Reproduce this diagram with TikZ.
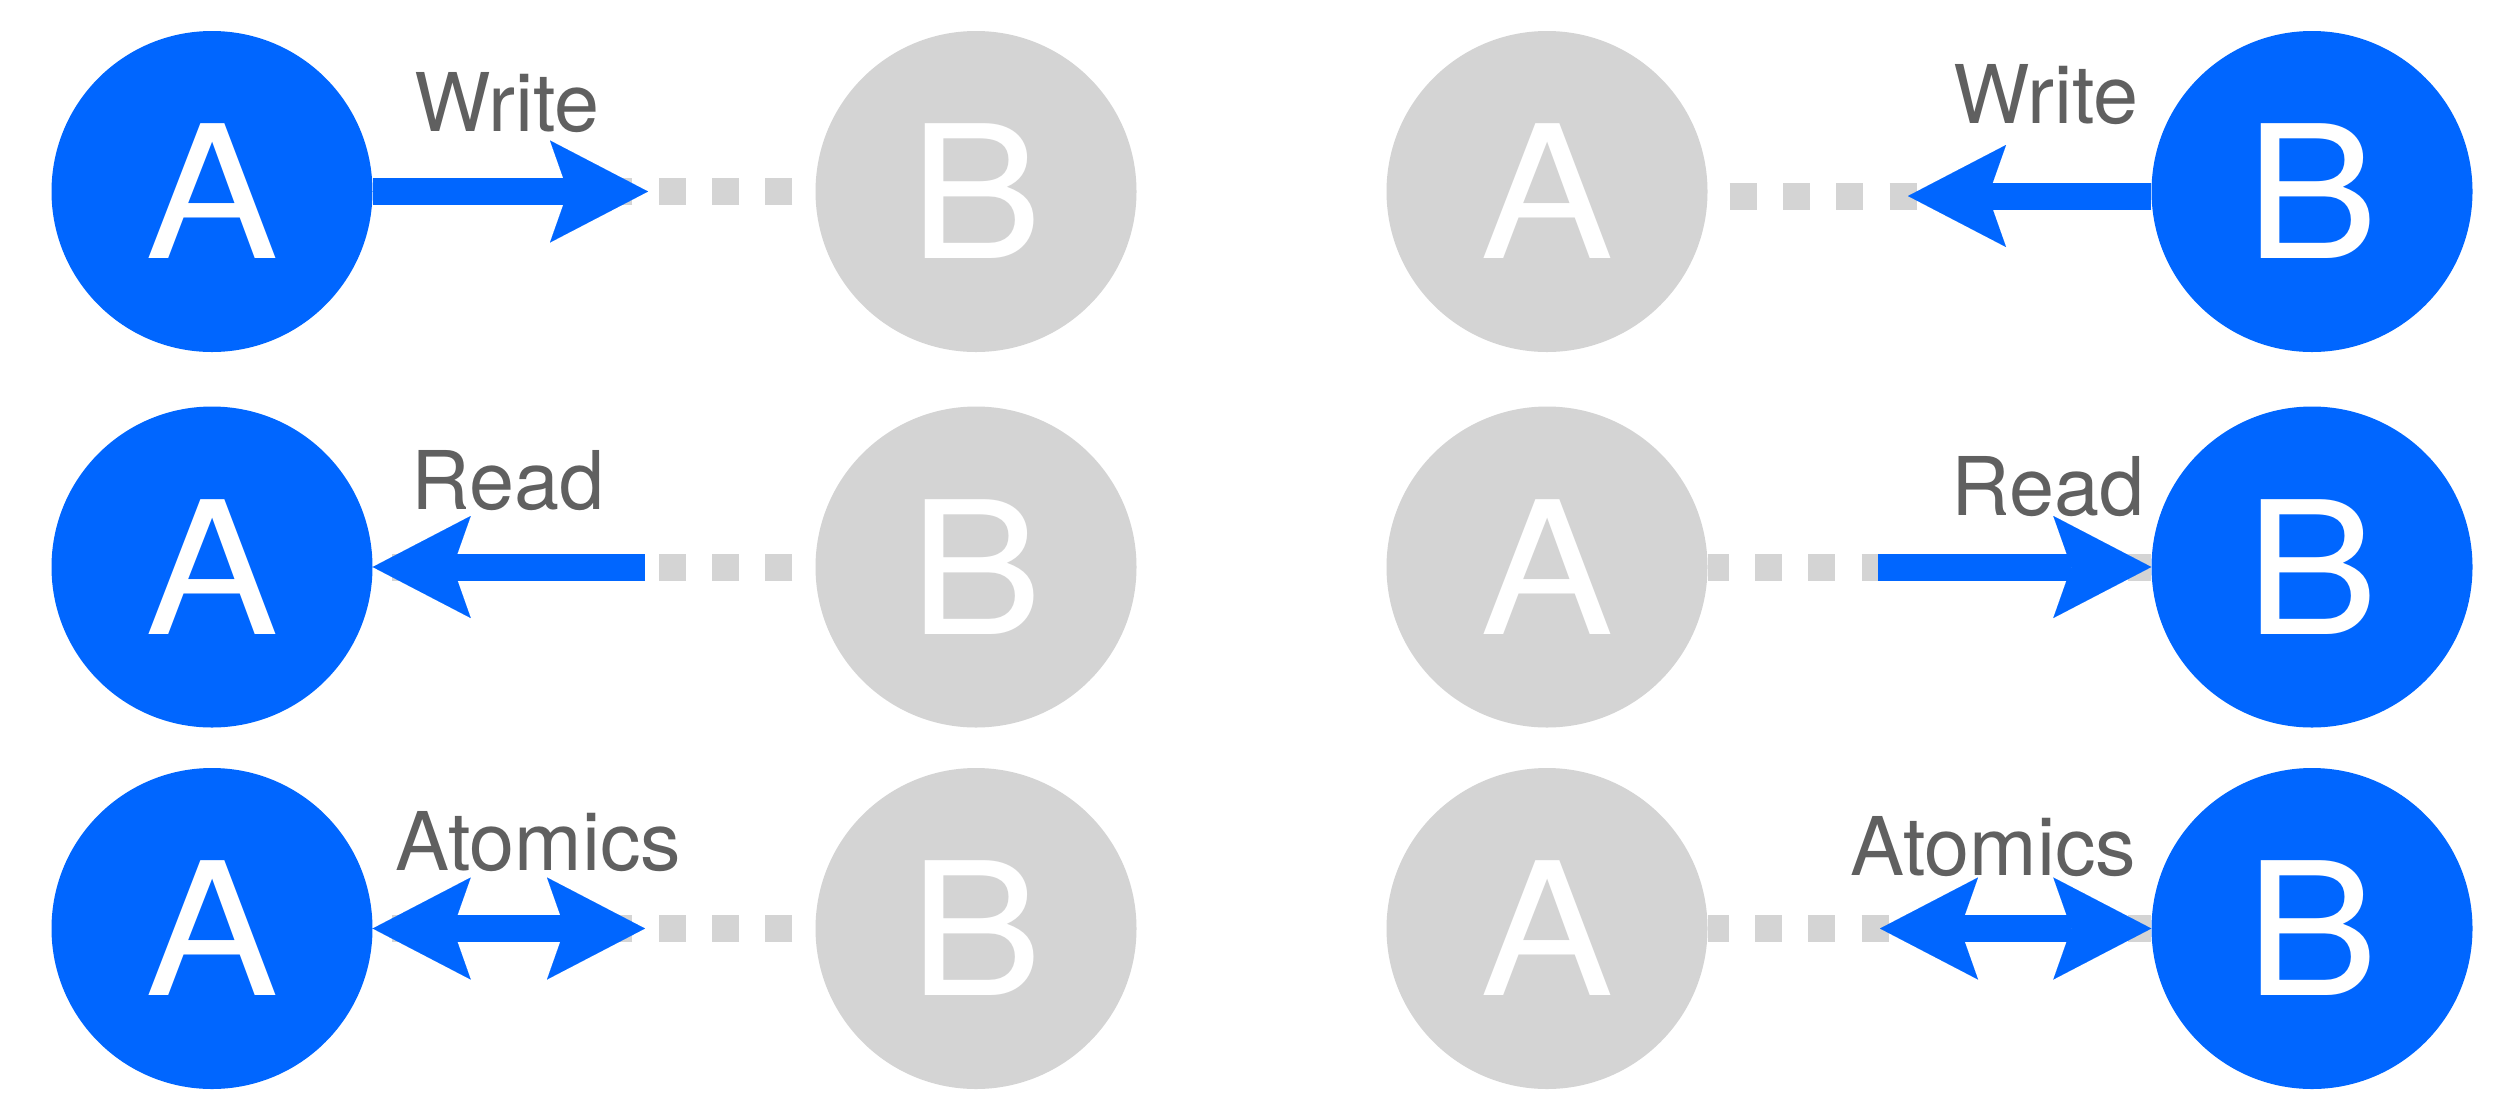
\documentclass[tikz,border=0pt]{standalone}
\usepackage{fontspec}
\setmainfont{TeX Gyre Heros}
\newfontfamily\peerfont[FakeStretch=1.08]{TeX Gyre Heros}
\usetikzlibrary{arrows.meta}

\definecolor{nodeblue}{RGB}{0,102,255}
\definecolor{nodegray}{RGB}{212,212,212}
\definecolor{labelgray}{RGB}{96,96,96}

\tikzset{
  x=1pt, y=-1pt,
  bigtip/.tip={Stealth[length=98pt,width=102pt,inset=18pt,line width=0.01pt]},
  peer/.style={circle, minimum size=321pt, inner sep=0pt, text=white,
    font=\peerfont\fontsize{185}{185}\selectfont},
  active/.style={peer, fill=nodeblue},
  idle/.style={peer, fill=nodegray},
  link/.style={draw=nodegray, line width=27pt, line cap=butt,
    dash pattern=on 27pt off 26.3pt},
  access/.style={draw=nodeblue, line width=27pt, line cap=butt},
  oplabel/.style={anchor=base west, inner sep=0pt, text=labelgray,
    font=\fontsize{81}{81}\selectfont},
}

\begin{document}
\begin{tikzpicture}
\useasboundingbox[fill=white] (0,0) rectangle (2510,1096);

% ---- peers ----
\node[active] (la1) at (212,191.5) {A};
\node[idle]   (lb1) at (976,191.5) {B};
\node[active] (la2) at (212,567)   {A};
\node[idle]   (lb2) at (976,567)   {B};
\node[active] (la3) at (212,928.5) {A};
\node[idle]   (lb3) at (976,928.5) {B};

\node[idle]   (ra1) at (1547,191.5) {A};
\node[active] (rb1) at (2312,191.5) {B};
\node[idle]   (ra2) at (1547,567)   {A};
\node[active] (rb2) at (2312,567)   {B};
\node[idle]   (ra3) at (1547,928.5) {A};
\node[active] (rb3) at (2312,928.5) {B};

% ---- passive links ----
\draw[link, dash phase=30.3pt] (lb1.west) -- (la1.east);
\draw[link, dash phase=30.3pt] (lb2.west) -- (la2.east);
\draw[link, dash phase=30.3pt] (lb3.west) -- (la3.east);
\draw[link, dash phase=31.3pt] (ra1.east |- 0,196) -- (rb1.west |- 0,196);
\draw[link, dash phase=6pt] (ra2.east) -- (rb2.west);
\draw[link, dash phase=6pt] (ra3.east) -- (rb3.west);

% ---- free ends of the access arrows ----
\coordinate (lw1) at (648,191.5);
\coordinate (lr2) at (645,567);
\coordinate (lx3) at (645,928.5);
\coordinate (rw1) at (1908,196);
\coordinate (rr2) at (1878,567);
\coordinate (rx3) at (1880,928.5);

% ---- accesses ----
\draw[access, -{bigtip}] (la1.east) -- (lw1);
\draw[access, -{bigtip}] (lr2) -- (la2.east);
\draw[access, {bigtip}-{bigtip}] (la3.east) -- (lx3);

\draw[access, -{bigtip}] (rb1.west |- 0,196) -- (rw1);
\draw[access, -{bigtip}] (rr2) -- (rb2.west);
\draw[access, {bigtip}-{bigtip}] (rx3) -- (rb3.west);

% ---- labels ----
\node[oplabel] (tw1) at (414,131) {Write};
\node[oplabel] (tr2) at (411.5,509) {Read};
\node[oplabel] (tx3) at (395,870) {Atomics};
\node[oplabel] (tw4) at (1953,123) {Write};
\node[oplabel] (tr5) at (1951.5,515) {Read};
\node[oplabel] (tx6) at (1850,875) {Atomics};
\end{tikzpicture}
\end{document}
